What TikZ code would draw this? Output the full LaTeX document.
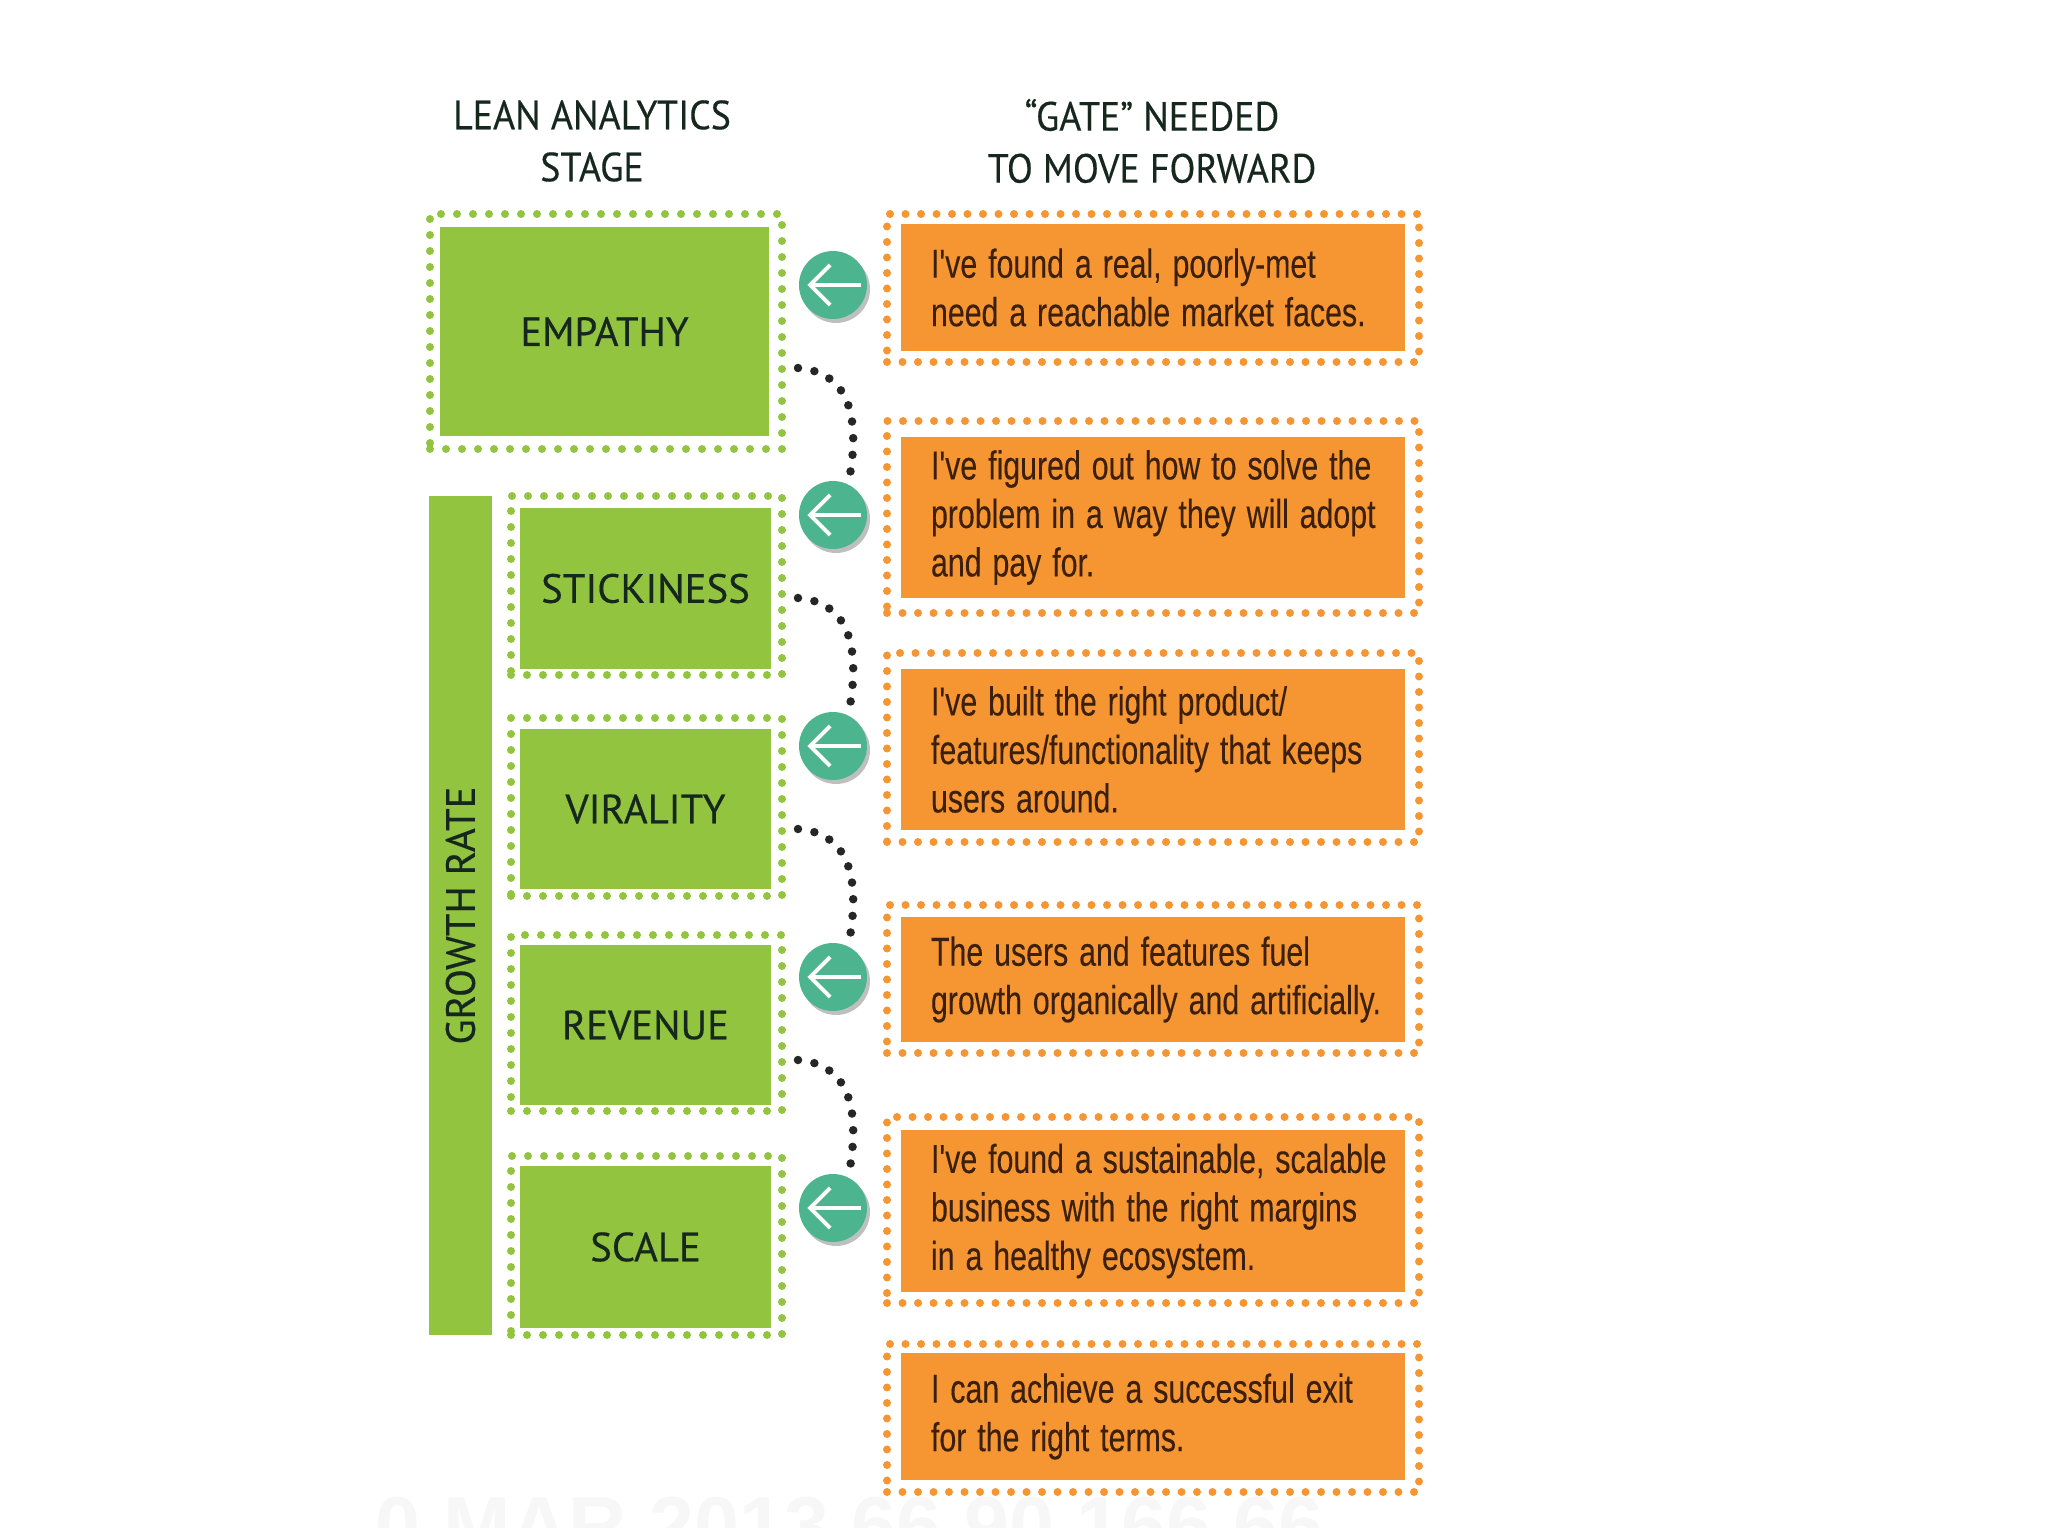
\documentclass[tikz,border=0pt]{standalone}
\usepackage{fontspec}
\setmainfont{PT Sans}
\newfontfamily\gatefont[FakeStretch=0.75, FakeBold=0.15]{Liberation Sans}
\newfontfamily\headfont[FakeStretch=0.93, FakeBold=0.3]{PT Sans}
\newfontfamily\stagefont[FakeBold=0.4]{PT Sans}
\newfontfamily\stampfont{Liberation Sans}
\usetikzlibrary{arrows.meta}
\definecolor{LeanGreen}{RGB}{147, 196, 64}
\definecolor{GateOrange}{RGB}{246, 150, 50}
\definecolor{ArrowTeal}{RGB}{76, 181, 143}
\definecolor{InkDark}{RGB}{22, 40, 30}
\definecolor{InkBrown}{RGB}{60, 32, 12}
\definecolor{StampGray}{RGB}{247, 247, 247}

\begin{document}
\begin{tikzpicture}[
                greenring/.style={draw=LeanGreen, line width=0.08cm, line cap=round, dash pattern=on 0pt off 0.16cm, minimum width=2.71cm},
                orangering/.style={draw=GateOrange, line width=0.08cm, line cap=round, dash pattern=on 0pt off 0.155cm, minimum width=5.32cm},
                stage/.style={fill=LeanGreen, text=InkDark, minimum width=2.51cm, inner sep=0pt, font=\stagefont\fontsize{11.6}{14}\selectfont},
                gate/.style={fill=GateOrange, text=InkBrown, text width=5.04cm, inner sep=0pt, align=left, font=\gatefont\fontsize{11.5}{13.8}\selectfont, execute at begin node={\leftskip=0.3cm\spaceskip=0.27em}},
                head/.style={text=InkDark, align=center, font=\headfont\fontsize{11.6}{14.8}\selectfont},
                turn/.style={circle, fill=ArrowTeal, minimum size=0.68cm, inner sep=0pt},
                shade/.style={circle, fill=black!25, minimum size=0.68cm, inner sep=0pt},
                back/.style={-{Straight Barb[length=0.2cm, width=0.4cm]}, white, line width=0.04cm},
                hop/.style={black!85, line width=0.085cm, line cap=round, dash pattern=on 0pt off 0.167cm}
            ]
                \useasboundingbox (0, 0) rectangle (20.48, -15.36);

                % Faint stamp along the bottom
                \begin{scope}
                    \clip (3, -14.8) rectangle (14, -15.27);
                    \node[anchor=base west, inner sep=0pt, text=StampGray, font=\stampfont\bfseries\fontsize{23}{23}\selectfont] (stamp) at (3.75, -15.53) {0 MAR 2013 66 90 166 66};
                \end{scope}

                % Column titles
                \node[head] (leanhead) at (5.92, -1.41) {LEAN ANALYTICS\\STAGE};
                \node[head] (gatehead) at (11.52, -1.41) {“GATE” NEEDED\\TO MOVE FORWARD};

                % Stages (Left side - Green boxes)
                \node[greenring, minimum width=3.52cm, minimum height=2.35cm] (empathyring) at (6.06, -3.315) {};
                \node[stage, minimum width=3.29cm, minimum height=2.09cm] (empathy) at (6.045, -3.315) {EMPATHY};
                \node[greenring, minimum height=1.79cm] (stickinessring) at (6.465, -5.855) {};
                \node[stage, minimum height=1.61cm] (stickiness) at (6.455, -5.885) {STICKINESS};
                \node[greenring, minimum height=1.78cm] (viralityring) at (6.465, -8.07) {};
                \node[stage, minimum height=1.60cm] (virality) at (6.455, -8.09) {VIRALITY};
                \node[greenring, minimum height=1.76cm] (revenuering) at (6.465, -10.23) {};
                \node[stage, minimum height=1.60cm] (revenue) at (6.455, -10.25) {REVENUE};
                \node[greenring, minimum height=1.79cm] (scalering) at (6.465, -12.455) {};
                \node[stage, minimum height=1.62cm] (scale) at (6.455, -12.47) {SCALE};

                % Growth bar
                \node[stage, minimum width=8.39cm, minimum height=0.63cm, rotate=90] (growth) at (4.605, -9.155) {GROWTH RATE};

                % Gates (Right side - Orange boxes)
                \node[orangering, minimum height=1.48cm] (gateonering) at (11.53, -2.88) {};
                \node[gate, minimum height=1.27cm] (gateone) at (11.53, -2.875) {I've found a real, poorly-met\\need a reachable market faces.};
                \node[orangering, minimum height=1.92cm] (gatetworing) at (11.53, -5.17) {};
                \node[gate, minimum height=1.61cm] (gatetwo) at (11.53, -5.175) {I've figured out how to solve the\\problem in a way they will adopt\\and pay for.};
                \node[orangering, minimum height=1.89cm] (gatethreering) at (11.53, -7.475) {};
                \node[gate, minimum height=1.61cm] (gatethree) at (11.53, -7.495) {I've built the right product/\\features/functionality that keeps\\users around.};
                \node[orangering, minimum height=1.48cm] (gatefourring) at (11.53, -9.79) {};
                \node[gate, minimum height=1.25cm] (gatefour) at (11.53, -9.795) {The users and features fuel\\growth organically and artificially.};
                \node[orangering, minimum height=1.86cm] (gatefivering) at (11.53, -12.10) {};
                \node[gate, minimum height=1.62cm] (gatefive) at (11.53, -12.11) {I've found a sustainable, scalable\\business with the right margins\\in a healthy ecosystem.};
                \node[orangering, minimum height=1.48cm] (gatesixring) at (11.53, -14.18) {};
                \node[gate, minimum height=1.27cm] (gatesix) at (11.53, -14.165) {I can achieve a successful exit\\for the right terms.};

                % Circle shadows
                \node[shade] (shadeone) at (8.36, -2.89) {};
                \node[shade] (shadetwo) at (8.36, -5.19) {};
                \node[shade] (shadethree) at (8.36, -7.50) {};
                \node[shade] (shadefour) at (8.36, -9.81) {};
                \node[shade] (shadefive) at (8.36, -12.12) {};

                % Arrow circles
                \node[turn] (turnone) at (8.33, -2.85) {};
                \node[turn] (turntwo) at (8.33, -5.15) {};
                \node[turn] (turnthree) at (8.33, -7.46) {};
                \node[turn] (turnfour) at (8.33, -9.77) {};
                \node[turn] (turnfive) at (8.33, -12.08) {};

                \draw[back] ([xshift=-0.07cm]turnone.east) -- ([xshift=0.09cm]turnone.west);
                \draw[back] ([xshift=-0.07cm]turntwo.east) -- ([xshift=0.09cm]turntwo.west);
                \draw[back] ([xshift=-0.07cm]turnthree.east) -- ([xshift=0.09cm]turnthree.west);
                \draw[back] ([xshift=-0.07cm]turnfour.east) -- ([xshift=0.09cm]turnfour.west);
                \draw[back] ([xshift=-0.07cm]turnfive.east) -- ([xshift=0.09cm]turnfive.west);

                % Dotted hops between the circles
                \coordinate (hopone) at (7.98, -3.68);
                \coordinate (hoptwo) at (7.98, -5.98);
                \coordinate (hopthree) at (7.98, -8.29);
                \coordinate (hopfour) at (7.98, -10.60);
                \draw[hop] (hopone) .. controls (8.45, -3.72) and (8.62, -4.10) .. ([xshift=0.16cm]turntwo.north);
                \draw[hop] (hoptwo) .. controls (8.45, -6.02) and (8.62, -6.40) .. ([xshift=0.16cm]turnthree.north);
                \draw[hop] (hopthree) .. controls (8.45, -8.33) and (8.62, -8.71) .. ([xshift=0.16cm]turnfour.north);
                \draw[hop] (hopfour) .. controls (8.45, -10.64) and (8.62, -11.02) .. ([xshift=0.16cm]turnfive.north);
            \end{tikzpicture}
\end{document}
